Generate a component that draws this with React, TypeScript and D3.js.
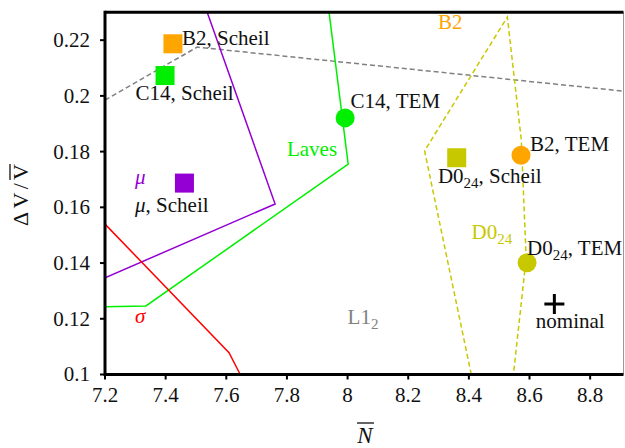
import React, { useEffect, useRef } from "react";
import * as d3 from "d3";

const W = 625;
const H = 448;
const M = { left: 105, top: 12.3, right: 623.5, bottom: 374.5 };

const xTicks = [7.2, 7.4, 7.6, 7.8, 8, 8.2, 8.4, 8.6, 8.8];
const yTicks = [0.1, 0.12, 0.14, 0.16, 0.18, 0.2, 0.22];
const xTickLabels = ["7.2", "7.4", "7.6", "7.8", "8", "8.2", "8.4", "8.6", "8.8"];
const yTickLabels = ["0.1", "0.12", "0.14", "0.16", "0.18", "0.2", "0.22"];

// Phase boundaries [N, dV/V]
const l12Boundary: [number, number][] = [[7.2, 0.1985], [7.504, 0.2175], [8.91, 0.2017]];
const muBoundary: [number, number][] = [[7.537, 0.23], [7.761, 0.1612], [7.2, 0.1347]];
const lavesBoundary: [number, number][] = [[7.939, 0.23], [8.002, 0.1755], [7.335, 0.1246], [7.2, 0.1243]];
const sigmaBoundary: [number, number][] = [[7.2, 0.154], [7.609, 0.1078], [7.646, 0.1]];
const d024Boundary: [number, number][] = [
  [8.408, 0.1], [8.254, 0.1803], [8.527, 0.2283], [8.573, 0.1841], [8.589, 0.1418], [8.547, 0.1],
];

// Markers
const scheilPoints = [
  { name: "B2", x: 7.424, y: 0.2187, color: "#ffa500" },
  { name: "C14", x: 7.398, y: 0.2073, color: "#00ee00" },
  { name: "mu", x: 7.462, y: 0.1687, color: "#9400d3" },
  { name: "D024", x: 8.36, y: 0.1778, color: "#c8c800" },
];
const temPoints = [
  { name: "C14", x: 7.992, y: 0.1921, color: "#00ee00" },
  { name: "B2", x: 8.572, y: 0.1787, color: "#ffa500" },
  { name: "D024", x: 8.592, y: 0.1401, color: "#c8c800" },
];
const nominalPoint = { x: 8.682, y: 0.1253 };

type Ann = { t: string; sub?: string; after?: string; x: number; y: number; color: string; italic?: boolean };
const annotations: Ann[] = [
  { t: "B2, Scheil", x: 7.454, y: 0.2184, color: "#111" },
  { t: "C14, Scheil", x: 7.301, y: 0.1985, color: "#111" },
  { t: "μ", x: 7.299, y: 0.1684, color: "#9400d3", italic: true },
  { t: "μ", after: ", Scheil", x: 7.299, y: 0.1583, color: "#111", italic: true },
  { t: "Laves", x: 7.8, y: 0.1784, color: "#00ee00" },
  { t: "C14, TEM", x: 8.01, y: 0.1957, color: "#111" },
  { t: "B2", x: 8.298, y: 0.224, color: "#ffa500" },
  { t: "B2, TEM", x: 8.602, y: 0.1803, color: "#111" },
  { t: "D0", sub: "24", after: ", Scheil", x: 8.298, y: 0.1687, color: "#111" },
  { t: "D0", sub: "24", x: 8.409, y: 0.1486, color: "#c8c800" },
  { t: "D0", sub: "24", after: ", TEM", x: 8.592, y: 0.1429, color: "#111" },
  { t: "L1", sub: "2", x: 8.0, y: 0.1181, color: "#808080" },
  { t: "nominal", x: 8.621, y: 0.1167, color: "#111" },
  { t: "σ", x: 7.299, y: 0.1185, color: "#ff0000", italic: true },
];

const SERIF = "Liberation Serif";

export default function App() {
  const ref = useRef<SVGSVGElement>(null);

  useEffect(() => {
    const svg = d3.select(ref.current);
    svg.selectAll("*").remove();
    const x = d3.scaleLinear().domain([7.2, 8.91]).range([M.left, M.right]);
    const y = d3.scaleLinear().domain([0.1, 0.23]).range([M.bottom, M.top]);
    const line = d3
      .line<[number, number]>()
      .x((d) => x(d[0]))
      .y((d) => y(d[1]));

    svg.append("rect").attr("width", W).attr("height", H).attr("fill", "#fff");
    svg
      .append("defs")
      .append("clipPath")
      .attr("id", "plotclip")
      .append("rect")
      .attr("x", M.left)
      .attr("y", M.top)
      .attr("width", M.right - M.left)
      .attr("height", M.bottom - M.top);

    const lines = svg.append("g").attr("clip-path", "url(#plotclip)").attr("fill", "none").attr("stroke-width", 1.5);
    const boundaries: [[number, number][], string, string | null][] = [
      [l12Boundary, "#808080", "5,3"],
      [muBoundary, "#9400d3", null],
      [lavesBoundary, "#00ee00", null],
      [sigmaBoundary, "#ff0000", null],
      [d024Boundary, "#c8c800", "5,3"],
    ];
    boundaries.forEach(([pts, c, dash]) => {
      const p = lines.append("path").attr("d", line(pts)).attr("stroke", c);
      if (dash) p.attr("stroke-dasharray", dash);
    });

    const sq = 19;
    svg
      .selectAll("rect.sch")
      .data(scheilPoints)
      .join("rect")
      .attr("class", "sch")
      .attr("x", (d) => x(d.x) - sq / 2)
      .attr("y", (d) => y(d.y) - sq / 2)
      .attr("width", sq)
      .attr("height", sq)
      .attr("fill", (d) => d.color);
    svg
      .selectAll("circle.tem")
      .data(temPoints)
      .join("circle")
      .attr("class", "tem")
      .attr("cx", (d) => x(d.x))
      .attr("cy", (d) => y(d.y))
      .attr("r", 9.5)
      .attr("fill", (d) => d.color);
    const nx = x(nominalPoint.x);
    const ny = y(nominalPoint.y);
    const plus = svg.append("g").attr("stroke", "#000").attr("stroke-width", 3);
    plus.append("line").attr("x1", nx - 10).attr("x2", nx + 10).attr("y1", ny).attr("y2", ny);
    plus.append("line").attr("x1", nx).attr("x2", nx).attr("y1", ny - 10).attr("y2", ny + 10);

    annotations.forEach((a) => {
      const t = svg
        .append("text")
        .attr("x", x(a.x))
        .attr("y", y(a.y))
        .attr("font-family", SERIF)
        .attr("font-size", 21)
        .attr("fill", a.color);
      t.append("tspan").attr("font-style", a.italic ? "italic" : "normal").text(a.t);
      if (a.sub) t.append("tspan").attr("font-size", 15).attr("dy", 5).text(a.sub);
      if (a.after) t.append("tspan").attr("dy", a.sub ? -5 : 0).attr("font-style", "normal").text(a.after);
    });

    // frame
    svg.append("line").attr("x1", M.right).attr("x2", M.right).attr("y1", M.top).attr("y2", M.bottom).attr("stroke", "#999").attr("stroke-width", 1);
    svg.append("line").attr("x1", M.left).attr("x2", M.right).attr("y1", M.top).attr("y2", M.top).attr("stroke", "#000").attr("stroke-width", 3);
    svg.append("line").attr("x1", M.left).attr("x2", M.right).attr("y1", M.bottom).attr("y2", M.bottom).attr("stroke", "#000").attr("stroke-width", 3);
    svg.append("line").attr("x1", M.left).attr("x2", M.left).attr("y1", M.top - 1.5).attr("y2", M.bottom + 1.5).attr("stroke", "#000").attr("stroke-width", 3);

    xTicks.forEach((t, i) => {
      svg.append("line").attr("x1", x(t)).attr("x2", x(t)).attr("y1", M.bottom).attr("y2", M.bottom + 5).attr("stroke", "#000").attr("stroke-width", 2);
      svg
        .append("text")
        .attr("x", x(t))
        .attr("y", 402)
        .attr("font-family", SERIF)
        .attr("font-size", 21)
        .attr("text-anchor", "middle")
        .attr("fill", "#111")
        .text(xTickLabels[i]);
    });
    yTicks.forEach((t, i) => {
      svg.append("line").attr("x1", M.left - 5).attr("x2", M.left).attr("y1", y(t)).attr("y2", y(t)).attr("stroke", "#000").attr("stroke-width", 2);
      svg
        .append("text")
        .attr("x", 90)
        .attr("y", y(t))
        .attr("dy", "0.33em")
        .attr("font-family", SERIF)
        .attr("font-size", 21)
        .attr("text-anchor", "end")
        .attr("fill", "#111")
        .text(yTickLabels[i]);
    });

    // x label
    svg
      .append("text")
      .attr("x", 365)
      .attr("y", 443)
      .attr("font-family", SERIF)
      .attr("font-size", 23)
      .attr("font-style", "italic")
      .attr("text-anchor", "middle")
      .attr("fill", "#111")
      .text("N");
    svg.append("line").attr("x1", 357).attr("x2", 374).attr("y1", 423).attr("y2", 423).attr("stroke", "#111").attr("stroke-width", 1.3);

    // y label
    const yl = svg.append("g").attr("transform", "translate(28,195) rotate(-90)");
    yl.append("text")
      .attr("font-family", SERIF)
      .attr("font-size", 22)
      .attr("text-anchor", "middle")
      .attr("fill", "#111")
      .attr("textLength", 62)
      .attr("lengthAdjust", "spacing")
      .text("ΔV/V");
    yl.append("line").attr("x1", 15).attr("x2", 31).attr("y1", -18).attr("y2", -18).attr("stroke", "#111").attr("stroke-width", 1.3);
  }, []);

  return <svg ref={ref} width={W} height={H} style={{ position: "absolute", left: 0, top: 0 }} />;
}
